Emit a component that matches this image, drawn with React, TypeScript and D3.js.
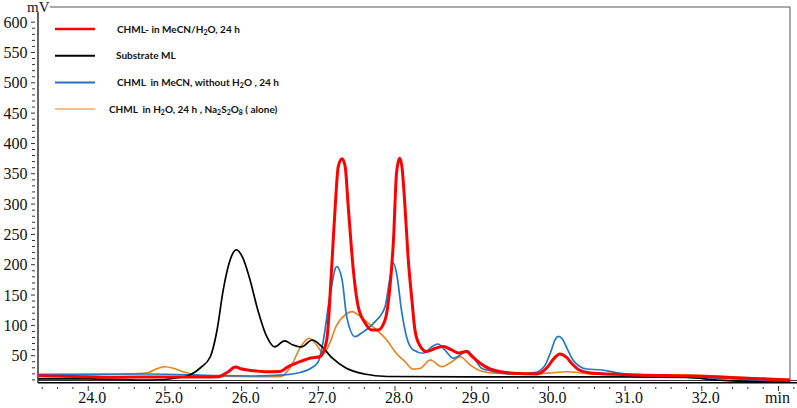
import React from 'react';
import * as d3 from 'd3';

const W = 797;
const H = 408;

// retention time (min) and signal (mV)
const redT = [23.35, 23.8, 24.38, 25.0, 25.5, 25.7, 25.82, 25.92, 26.0, 26.08, 26.3, 26.5, 26.6, 26.76, 26.9, 27.02, 27.11, 27.17, 27.22, 27.26, 27.31, 27.35, 27.39, 27.46, 27.52, 27.61, 27.7, 27.78, 27.87, 27.93, 27.98, 28.02, 28.06, 28.09, 28.13, 28.17, 28.22, 28.26, 28.32, 28.41, 28.52, 28.63, 28.74, 28.83, 28.93, 29.0, 29.11, 29.24, 29.54, 29.85, 29.98, 30.07, 30.15, 30.23, 30.31, 30.4, 30.55, 31.19, 31.84, 32.5, 33.15];
const redV = [17, 15.7, 14.4, 14.9, 14.9, 15.3, 23.1, 31.4, 28, 26.4, 23.6, 23.9, 31.4, 40.1, 46.2, 48.3, 75.9, 186.5, 295.8, 361.8, 374.6, 361.8, 295.8, 186.5, 130.8, 104, 92.4, 92.4, 108.9, 158.4, 240.9, 351.5, 375.7, 361.8, 295.8, 213.3, 141.9, 92.4, 67.7, 56.9, 61.9, 65.2, 59.4, 54.5, 56.9, 49.5, 37.4, 28, 21, 19.8, 30, 45, 52.8, 48, 36.3, 26.4, 21.5, 18.2, 16.5, 13.2, 9.9];

const blackT = [23.35, 24.0, 24.81, 25.24, 25.46, 25.59, 25.68, 25.76, 25.85, 25.93, 26.01, 26.11, 26.2, 26.33, 26.43, 26.56, 26.67, 26.78, 26.92, 27.05, 27.18, 27.36, 27.6, 27.9, 29.0, 31.0, 31.8, 32.2, 32.6, 33.15];
const blackV = [11.6, 11.6, 9.9, 14.9, 29.7, 47.8, 92.4, 158.4, 207.9, 224.4, 212.9, 174.9, 130.4, 80.9, 64.4, 74.3, 67.7, 64.4, 75.9, 64.4, 46.2, 29.7, 19.8, 15.7, 14.9, 14.9, 14, 9.9, 7.4, 6.6];

const blueT = [23.35, 24.8, 25.7, 26.13, 26.56, 26.76, 26.92, 27.0, 27.06, 27.15, 27.24, 27.31, 27.37, 27.48, 27.56, 27.65, 27.74, 27.87, 27.93, 27.98, 28.02, 28.09, 28.15, 28.24, 28.37, 28.48, 28.56, 28.65, 28.76, 28.85, 28.94, 29.02, 29.13, 29.2, 29.5, 29.82, 29.95, 30.03, 30.09, 30.13, 30.18, 30.25, 30.32, 30.4, 30.5, 30.7, 30.89, 31.19, 31.84, 32.5, 33.15];
const blueV = [19.3, 19.8, 17, 16.5, 18.2, 22.3, 30.5, 40.1, 71, 147.3, 196.8, 174.9, 114.3, 81.3, 87, 95.2, 106.1, 130.8, 174.9, 202.5, 186, 120, 81.3, 59.4, 54, 64.8, 69.3, 59.4, 45.7, 51.2, 58.2, 48.3, 29.2, 26.4, 19.8, 22, 33, 56, 77, 82, 78, 60, 43, 33, 28, 26.4, 21.9, 18.2, 15.3, 11.1, 8.7];

const orangeT = [23.35, 24.5, 24.77, 24.9, 25.0, 25.12, 25.25, 25.4, 25.55, 26.0, 26.5, 26.64, 26.77, 26.88, 26.96, 27.07, 27.15, 27.23, 27.35, 27.44, 27.52, 27.63, 27.76, 27.91, 28.0, 28.13, 28.24, 28.33, 28.46, 28.61, 28.74, 28.85, 28.98, 29.11, 29.33, 29.76, 30.06, 30.24, 30.41, 30.54, 31.19, 31.84, 32.5, 33.15];
const orangeV = [18, 19.8, 21.9, 28.9, 31.8, 28.9, 23.1, 18.2, 16.5, 15.7, 15.3, 31.8, 64.8, 78.7, 70.5, 54, 71, 97.8, 117.2, 122.6, 117.2, 106.1, 92.4, 73.1, 56.6, 40.1, 27.6, 29.2, 42.9, 31.8, 40.1, 48.3, 34.6, 25.2, 21, 19.8, 21.9, 23.6, 21.9, 19.8, 18.2, 18.2, 14.4, 11.1];

const yTickLabels = [50, 100, 150, 200, 250, 300, 350, 400, 450, 500, 550, 600];
const xTickLabels = [24, 25, 26, 27, 28, 29, 30, 31, 32];

type Seg = { t: string; sub?: boolean };
const legendItems: { color: string; width: number; segs: Seg[]; dx: number }[] = [
  { color: '#ff0000', width: 2.5, dx: 0, segs: [{ t: 'CHML- in MeCN/H' }, { t: '2', sub: true }, { t: 'O, 24 h' }] },
  { color: '#000000', width: 2, dx: -1, segs: [{ t: 'Substrate ML' }] },
  { color: '#2a70c2', width: 2, dx: 0, segs: [{ t: 'CHML  in MeCN, without H' }, { t: '2', sub: true }, { t: 'O , 24 h' }] },
  { color: '#f9c08e', width: 2, dx: -8, segs: [{ t: 'CHML  in H' }, { t: '2', sub: true }, { t: 'O, 24 h , Na' }, { t: '2', sub: true }, { t: 'S' }, { t: '2', sub: true }, { t: 'O' }, { t: '8', sub: true }, { t: ' ( alone)' }] },
];

const series = [
  { t: orangeT, v: orangeV, color: '#e8801f', w: 1.6 },
  { t: blueT, v: blueV, color: '#2378c6', w: 1.7 },
  { t: blackT, v: blackV, color: '#000000', w: 1.7 },
  { t: redT, v: redV, color: '#ff0000', w: 3 },
];

export default function App() {
  const left = 38, right = 790, top = 7, bottom = 382;
  const x = d3.scaleLinear().domain([23.345, 33.15]).range([left, right]);
  const y = d3.scaleLinear().domain([6.6, 625]).range([bottom, top]);
  const line = d3
    .line<[number, number]>()
    .x((d) => x(d[0]))
    .y((d) => y(d[1]))
    .curve(d3.curveMonotoneX);

  const minorX = d3.range(234, 333, 2).map((d) => d / 10);
  const minorY = d3.range(10, 610, 10);
  const serif = "'Liberation Serif', 'Times New Roman', serif";
  const sans = "Lato, 'Liberation Sans', sans-serif";

  return (
    <svg width={W} height={H} style={{ position: 'fixed', left: 0, top: 0, background: '#fff' }}>
      <defs>
        <clipPath id="plotClip">
          <rect x={left} y={top} width={right - left} height={bottom - top} />
        </clipPath>
      </defs>
      <rect x={0} y={0} width={W} height={H} fill="#fff" />
      {/* frame */}
      <line x1={50} x2={right} y1={top} y2={top} stroke="#555" strokeWidth={1} />
      <line x1={right} x2={right} y1={top} y2={bottom + 1} stroke="#555" strokeWidth={1} />
      <line x1={left} x2={left} y1={12} y2={bottom + 1} stroke="#111" strokeWidth={1.3} />
      <line x1={left} x2={W} y1={380.5} y2={380.5} stroke="#333" strokeWidth={1} />
      <line x1={left} x2={W} y1={382.8} y2={382.8} stroke="#000" strokeWidth={1.4} />

      {/* y ticks */}
      {minorY.map((v) => (
        <line key={'my' + v} x1={v % 50 === 0 ? 31 : 32} x2={35} y1={y(v)} y2={y(v)} stroke="#333" strokeWidth={1} />
      ))}
      {yTickLabels.map((v) => (
        <text key={'ly' + v} x={27.5} y={y(v) + 5.5} textAnchor="end" fontFamily={serif} fontSize={16} fill="#111">
          {v}
        </text>
      ))}
      <text x={27} y={12} fontFamily={serif} fontSize={15} fill="#111">mV</text>

      {/* x ticks */}
      {minorX.map((t) => {
        const major = Math.abs(t - Math.round(t)) < 1e-6;
        return (
          <line key={'mx' + t} x1={x(t)} x2={x(t)} y1={major ? 386 : 387} y2={major ? 391 : 389} stroke="#333" strokeWidth={1} />
        );
      })}
      {xTickLabels.map((t) => (
        <text key={'lx' + t} x={x(t) + 4} y={403} textAnchor="middle" fontFamily={serif} fontSize={16} fill="#111">
          {t.toFixed(1)}
        </text>
      ))}
      <text x={765} y={403} fontFamily={serif} fontSize={16} fill="#111">min</text>

      {/* series */}
      <g clipPath="url(#plotClip)">
        {series.map((s, i) => (
          <path
            key={i}
            d={line(s.t.map((t, j) => [t, s.v[j]] as [number, number])) || ''}
            fill="none"
            stroke={s.color}
            strokeWidth={s.w}
            strokeLinejoin="round"
          />
        ))}
      </g>

      {/* legend */}
      {legendItems.map((it, i) => {
        const ly = 29 + i * 26.7;
        return (
          <g key={'lg' + i}>
            <line x1={55} x2={95} y1={ly} y2={ly} stroke={it.color} strokeWidth={it.width} />
            <text x={117 + it.dx} y={ly + 3.5} fontFamily={sans} fontWeight={700} fontSize={10} fill="#111" style={{ whiteSpace: 'pre' }}>
              {it.segs.map((s, k) => (
                <tspan key={k} fontSize={s.sub ? 7 : 10} dy={s.sub ? 2 : k > 0 && it.segs[k - 1].sub ? -2 : 0}>
                  {s.t}
                </tspan>
              ))}
            </text>
          </g>
        );
      })}
    </svg>
  );
}
